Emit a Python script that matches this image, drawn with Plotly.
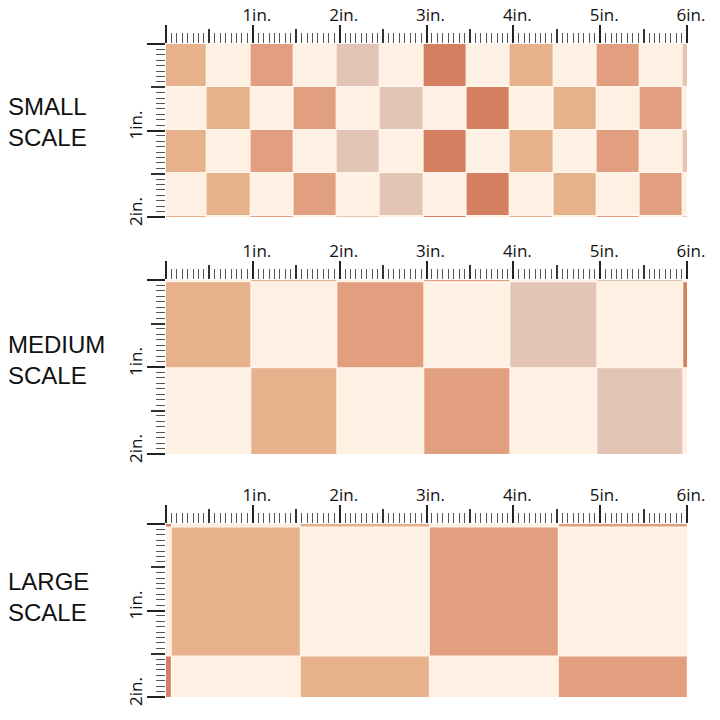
import plotly.graph_objects as go

# ---------------- data ----------------
# colour codes: 0 cream, 1 tan, 2 salmon, 3 beige, 4 terracotta
palette = ["#FEF1E4", "#E6B18B", "#E29F7F", "#E2C5B5", "#D48060"]

small_rows = [
    [1, 0, 2, 0, 3, 0, 4, 0, 1, 0, 2, 0, 3],
    [0, 1, 0, 2, 0, 3, 0, 4, 0, 1, 0, 2, 0],
    [1, 0, 2, 0, 3, 0, 4, 0, 1, 0, 2, 0, 3],
    [0, 1, 0, 2, 0, 3, 0, 4, 0, 1, 0, 2, 0],
    [1, 0, 2, 0, 3, 0, 4, 0, 1, 0, 2, 0, 3],
]
medium_rows = [
    [0, 1, 0, 2, 0, 3, 0],
    [1, 0, 2, 0, 3, 0, 4],
    [0, 1, 0, 2, 0, 3, 0],
]
large_rows = [
    [4, 0, 1, 0, 2],
    [0, 1, 0, 2, 0],
    [4, 0, 1, 0, 2],
]
scale_names = ["SMALL<br>SCALE", "MEDIUM<br>SCALE", "LARGE<br>SCALE"]
x_tick_vals = [0, 1, 2, 3, 4, 5, 6]
x_tick_text = ["", "1in.", "2in.", "3in.", "4in.", "5in.", "6in."]
y_tick_vals = [0, 1, 2]
y_tick_text = ["", "1in.", "2in."]
half_vals_x = [0.5, 1.5, 2.5, 3.5, 4.5, 5.5]
half_vals_y = [0.5, 1.5]

# ---------------- geometry (inches) ----------------
# (x offset, x repeat, y offset, y repeat)
geom = [
    (-0.028, 0.4985, 0.0, 0.497),
    (-0.02, 0.997, 0.022 - 0.997, 0.997),
    (0.067 - 1.486, 1.486, 0.035 - 1.5, 1.5),
]
patterns = [small_rows, medium_rows, large_rows]

# panel pixel positions (top, bottom) in a 720 px figure
panel_px = [(44, 217), (280, 454), (524, 697)]
label_px = [122, 360, 597]
X0, X1 = 166, 687
W = H = 720

n = len(palette)
cscale = []
for i, c in enumerate(palette):
    cscale.append([i / n, c])
    cscale.append([(i + 1) / n, c])

fig = go.Figure()
layout = {}
tick_font = dict(family="Open Sans", size=17, color="#111")

for p in range(3):
    rows = patterns[p]
    xo, xs, yo, ys = geom[p]
    ncol = len(rows[0])
    nrow = len(rows)
    xe = [xo + k * xs for k in range(ncol + 1)]
    ye = [yo + k * ys for k in range(nrow + 1)]
    sfx = "" if p == 0 else str(p + 1)
    ofx = str(p + 4)
    fig.add_trace(go.Heatmap(
        z=rows, x=xe, y=ye, colorscale=cscale, zmin=-0.5, zmax=n - 0.5,
        showscale=False, xgap=1, ygap=1, hoverinfo="skip",
        xaxis="x" + sfx, yaxis="y" + sfx,
    ))
    fig.add_trace(go.Scatter(x=[], y=[], xaxis="x" + ofx, yaxis="y" + ofx,
                             showlegend=False))
    top, bot = panel_px[p]
    ydom = [1 - bot / H, 1 - top / H]
    xdom = [X0 / W, X1 / W]
    layout["xaxis" + sfx] = dict(
        domain=xdom, range=[0, 6], side="top", anchor="y" + sfx,
        automargin=False,
        showgrid=False, zeroline=False, showline=False,
        tickmode="array", tickvals=x_tick_vals, ticktext=x_tick_text,
        ticks="outside", ticklen=18, tickwidth=1.6, tickcolor="#222",
        ticklabelshift=4, ticklabelstandoff=-3, tickfont=tick_font,
        fixedrange=True,
        minor=dict(dtick=1 / 16, tick0=0, ticks="outside", ticklen=10,
                   tickwidth=1.3, tickcolor="#555", showgrid=False),
    )
    layout["yaxis" + sfx] = dict(
        domain=ydom, range=[2, 0], anchor="x" + sfx,
        automargin=False,
        showgrid=False, zeroline=False, showline=False,
        tickmode="array", tickvals=y_tick_vals, ticktext=y_tick_text,
        tickangle=-90, ticks="outside", ticklen=18, tickwidth=1.6,
        tickcolor="#222", ticklabelshift=3, ticklabelstandoff=-2,
        tickfont=tick_font, fixedrange=True,
        minor=dict(dtick=1 / 16, tick0=0, ticks="outside", ticklen=9,
                   tickwidth=1.3, tickcolor="#555", showgrid=False),
    )
    layout["xaxis" + ofx] = dict(
        overlaying="x" + sfx, anchor="y" + sfx, side="top", range=[0, 6],
        automargin=False,
        showgrid=False, zeroline=False, showline=False, showticklabels=False,
        tickmode="array", tickvals=half_vals_x, ticks="outside", ticklen=14,
        tickwidth=1.5, tickcolor="#333", fixedrange=True,
    )
    layout["yaxis" + ofx] = dict(
        overlaying="y" + sfx, anchor="x" + sfx, side="left", range=[2, 0],
        automargin=False,
        showgrid=False, zeroline=False, showline=False, showticklabels=False,
        tickmode="array", tickvals=half_vals_y, ticks="outside", ticklen=14,
        tickwidth=1.5, tickcolor="#333", fixedrange=True,
    )
    fig.add_annotation(
        text=scale_names[p], xref="paper", yref="paper",
        x=6 / W, y=1 - label_px[p] / H, xanchor="left", yanchor="middle",
        align="left", showarrow=False,
        font=dict(family="Liberation Sans", size=24, color="#111"),
    )

fig.update_layout(
    width=W, height=H, margin=dict(l=0, r=0, t=0, b=0, autoexpand=False),
    paper_bgcolor="white", plot_bgcolor="#FFF5EC", showlegend=False,
    **layout,
)

fig.write_html(
    "out.html",
    config={"displayModeBar": False},
    post_script=(
        "document.body.style.margin='0';"
        "document.body.style.overflow='hidden';"
        "document.documentElement.style.overflow='hidden';"
    ),
)
